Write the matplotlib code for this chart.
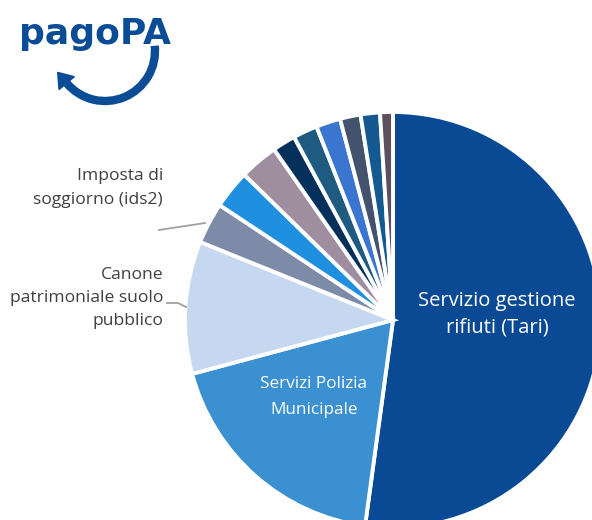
import matplotlib
matplotlib.use("Agg")
from matplotlib import pyplot as plt
from matplotlib.patches import Arc, Polygon
import numpy as np

# dati (quote in %)
categorie = ["Servizio gestione\nrifiuti (Tari)", "Servizi Polizia\nMunicipale",
             "Canone\npatrimoniale suolo\npubblico", "Imposta di\nsoggiorno (ids2)",
             "Altro 1", "Altro 2", "Altro 3", "Altro 4", "Altro 5", "Altro 6", "Altro 7", "Altro 8"]
valori = [52.2, 18.7, 10.3, 3.2, 3.0, 3.0, 1.8, 1.9, 1.9, 1.6, 1.5, 1.0]
colori = ["#0a4a94", "#3a90d1", "#c6d7f0", "#7d8ba8", "#1f8fe0", "#9e8e9f",
          "#05305c", "#1f5a80", "#3a76cf", "#43536e", "#14598f", "#5c5060"]

W, H = 592, 520
def Y(y):
    # coordinate pixel (dall'alto) -> coordinate dati
    return H - y

fig = plt.figure(figsize=(W / 100, H / 100), dpi=100)
ax = fig.add_axes([0, 0, 1, 1])

ax.pie(valori, colors=colori, startangle=90, counterclock=False,
       center=(393, Y(320)), radius=208,
       wedgeprops=dict(edgecolor="white", linewidth=2.8))

ax.set_xlim(0, W)
ax.set_ylim(0, H)
ax.set_aspect("equal")
ax.axis("off")

font = "Open Sans"
# etichette interne
ax.text(497, Y(314), categorie[0], ha="center", va="center", color="white",
        fontsize=14.5, family=font, linespacing=1.4)
ax.text(314, Y(397), categorie[1], ha="center", va="center", color="white",
        fontsize=12.3, family=font, linespacing=1.75)
# etichette esterne
ax.text(163, Y(188), categorie[3], ha="right", va="center", color="#404040",
        fontsize=12.6, family=font, linespacing=1.62)
ax.text(163, Y(298), categorie[2], ha="right", va="center", color="#404040",
        fontsize=12.6, family=font, linespacing=1.62)
ax.plot([159, 205], [Y(230), Y(223)], color="#a0a0a0", lw=1.3)
ax.plot([167, 178, 186], [Y(303), Y(303), Y(307)], color="#a0a0a0", lw=1.3)

# logo pagoPA
logo = "#0a4c96"
ax.text(19, Y(44), "pagoPA", ha="left", va="baseline", color=logo,
        fontsize=26, fontweight="bold", family=["DejaVu Sans"])
cx, cy, r = 105, Y(51), 50
ax.add_patch(Arc((cx, cy), 2 * r, 2 * r, theta1=-140, theta2=6, color=logo, lw=6))
t = np.radians(-140)
p = np.array([cx + r * np.cos(t), cy + r * np.sin(t)])
tan = np.array([np.sin(t), -np.cos(t)])
nor = np.array([np.cos(t), np.sin(t)])
tri = [p + tan * 14, p + nor * 10, p - nor * 10]
ax.add_patch(Polygon(tri, closed=True, color=logo))

plt.savefig("out.png", dpi=100)
